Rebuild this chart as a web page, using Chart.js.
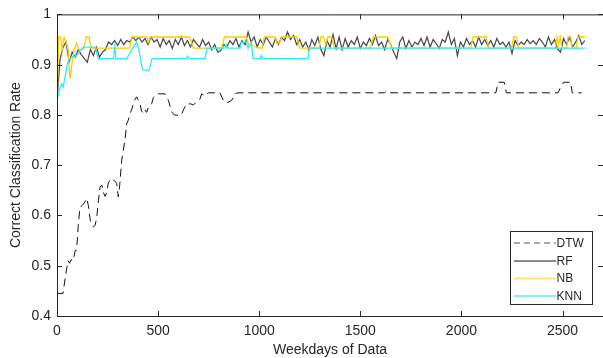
<!DOCTYPE html>
<html>
<head>
<meta charset="utf-8">
<script src="https://cdn.jsdelivr.net/npm/chart.js@4.4.1/dist/chart.umd.min.js"></script>
<style>
  html, body { margin: 0; padding: 0; background: #fff; }
  canvas { display: block; }
</style>
</head>
<body>
<canvas id="myChart" width="603" height="358"></canvas>
<script>
// x axis: weekdays of data, y axis: correct classification rate
const xTicks = [0, 500, 1000, 1500, 2000, 2500];
const yTicks = [0.4, 0.5, 0.6, 0.7, 0.8, 0.9, 1];
const seriesNames = ['DTW', 'RF', 'NB', 'KNN'];

// DTW (dashed black)
const dtwDays = [0, 30, 35, 48, 55, 62, 70, 80, 90, 97, 105, 114, 125, 135, 147, 155, 165, 180, 188, 196,
  205, 213, 222, 230, 238, 245, 254, 262, 270, 280, 288, 295, 303, 310, 320, 328, 336, 345, 353, 361,
  369, 377, 385, 394, 402, 410, 418, 427, 435, 443, 452, 460, 468, 477, 485, 500, 534, 551, 567, 580,
  600, 615, 625, 641, 660, 675, 691, 705, 716, 730, 748, 806, 815, 823, 839, 850, 864, 872, 880, 895,
  1620, 1627, 1634, 2170, 2182, 2212, 2222, 2478, 2490, 2505, 2540, 2548, 2595];
const dtwRate = [0.445, 0.445, 0.46, 0.495, 0.51, 0.505, 0.512, 0.51, 0.53, 0.531, 0.58, 0.617, 0.62, 0.625, 0.634, 0.62, 0.59, 0.577, 0.58, 0.594,
  0.63, 0.657, 0.66, 0.645, 0.638, 0.645, 0.665, 0.67, 0.674, 0.67, 0.668, 0.664, 0.637, 0.66, 0.71, 0.73, 0.75, 0.783, 0.79, 0.803,
  0.81, 0.822, 0.83, 0.836, 0.83, 0.823, 0.808, 0.803, 0.81, 0.805, 0.815, 0.82, 0.822, 0.835, 0.839, 0.842, 0.842, 0.829, 0.806, 0.8,
  0.799, 0.8, 0.81, 0.822, 0.822, 0.82, 0.826, 0.83, 0.842, 0.838, 0.844, 0.844, 0.835, 0.829, 0.824, 0.826, 0.829, 0.835, 0.842, 0.844,
  0.844, 0.847, 0.844, 0.844, 0.865, 0.865, 0.844, 0.844, 0.855, 0.865, 0.865, 0.844, 0.844];

// RF (dark grey, noisy), one reading every 15 days
const rfStep = 15;
const rfRate = [
  0.83, 0.91, 0.935, 0.945, 0.905, 0.925, 0.915, 0.93, 0.92, 0.912, 0.905, 0.93, 0.918, 0.935, 0.915, 0.925, 0.93, 0.945, 0.94, 0.948,
  0.938, 0.95, 0.94, 0.948, 0.945, 0.955, 0.948, 0.955, 0.945, 0.952, 0.94, 0.955, 0.945, 0.95, 0.935, 0.952, 0.94, 0.948, 0.932, 0.95,
  0.94, 0.955, 0.938, 0.948, 0.935, 0.95, 0.942, 0.935, 0.95, 0.938, 0.945, 0.93, 0.94, 0.925, 0.928, 0.94, 0.935, 0.948, 0.94, 0.952,
  0.935, 0.948, 0.94, 0.965, 0.945, 0.955, 0.935, 0.95, 0.94, 0.955, 0.945, 0.935, 0.952, 0.94, 0.955, 0.948, 0.965, 0.95, 0.958, 0.94,
  0.95, 0.935, 0.945, 0.93, 0.95, 0.938, 0.955, 0.93, 0.918, 0.948, 0.935, 0.96, 0.932, 0.955, 0.93, 0.952, 0.935, 0.948, 0.94, 0.955,
  0.932, 0.945, 0.938, 0.952, 0.94, 0.958, 0.938, 0.945, 0.93, 0.95, 0.94, 0.925, 0.912, 0.945, 0.955, 0.932, 0.948, 0.935, 0.945, 0.94,
  0.952, 0.938, 0.955, 0.935, 0.95, 0.942, 0.932, 0.95, 0.945, 0.965, 0.94, 0.952, 0.918, 0.945, 0.935, 0.952, 0.94, 0.948, 0.935, 0.955,
  0.94, 0.95, 0.938, 0.948, 0.935, 0.952, 0.94, 0.945, 0.935, 0.945, 0.922, 0.948, 0.938, 0.945, 0.94, 0.95, 0.942, 0.948, 0.94, 0.952,
  0.945, 0.935, 0.955, 0.94, 0.95, 0.932, 0.925, 0.952, 0.94, 0.955, 0.935, 0.945, 0.958, 0.94, 0.948];
const rfDays = rfRate.map((_, i) => i * rfStep);

// NB (gold, step-like)
const nbDays = [0, 8, 18, 25, 35, 45, 55, 64, 75, 85, 97, 108, 130, 145, 158, 170, 360, 370, 445, 452,
  462, 655, 675, 815, 828, 935, 948, 1005, 1015, 1025, 1078, 1088, 1100, 1111, 1185, 1200, 1295, 1305, 1318, 1328,
  1340, 1358, 1372, 1550, 1565, 1635, 1655, 2045, 2058, 2122, 2135, 2248, 2258, 2272, 2284, 2465, 2472, 2480, 2488, 2496,
  2520, 2527, 2540, 2548, 2568, 2576, 2611];
const nbRate = [0.81, 0.955, 0.955, 0.928, 0.955, 0.945, 0.93, 0.872, 0.905, 0.93, 0.942, 0.93, 0.93, 0.955, 0.955, 0.933, 0.933, 0.955, 0.955, 0.945,
  0.955, 0.955, 0.933, 0.933, 0.955, 0.955, 0.94, 0.933, 0.933, 0.955, 0.955, 0.942, 0.942, 0.955, 0.955, 0.933, 0.933, 0.955, 0.955, 0.94,
  0.955, 0.955, 0.933, 0.933, 0.955, 0.955, 0.933, 0.933, 0.955, 0.955, 0.933, 0.933, 0.955, 0.955, 0.933, 0.933, 0.955, 0.94, 0.955, 0.933,
  0.933, 0.955, 0.955, 0.933, 0.933, 0.955, 0.955];

// KNN (cyan)
const knnDays = [0, 12, 23, 30, 40, 50, 56, 73, 97, 114, 130, 188, 205, 279, 285, 292, 345, 370, 394, 405,
  420, 427, 455, 470, 638, 645, 655, 732, 742, 830, 836, 842, 905, 912, 935, 945, 960, 970, 1005, 1010,
  1018, 1240, 1250, 2611];
const knnRate = [0.828, 0.85, 0.862, 0.855, 0.875, 0.9, 0.908, 0.915, 0.918, 0.928, 0.935, 0.935, 0.912, 0.912, 0.935, 0.912, 0.912, 0.93, 0.945, 0.93,
  0.895, 0.889, 0.889, 0.912, 0.912, 0.917, 0.912, 0.912, 0.933, 0.933, 0.94, 0.933, 0.933, 0.945, 0.945, 0.933, 0.945, 0.912, 0.912, 0.918,
  0.912, 0.912, 0.933, 0.933];

const toPoints = (xs, ys) => xs.map((d, i) => ({ x: d, y: ys[i] }));

const textColor = '#262626';
const fontFamily = '"Liberation Sans", Arial, Helvetica, sans-serif';

// MATLAB-style box, inward ticks and legend
const matlabFrame = {
    id: 'matlabFrame',
    afterDatasetsDraw(chart) {
        const { ctx, chartArea: a, scales: { x, y } } = chart;
        ctx.save();
        ctx.strokeStyle = textColor;
        ctx.lineWidth = 1;
        ctx.setLineDash([]);
        ctx.beginPath();
        ctx.rect(a.left + 0.5, a.top + 0.5, a.right - a.left, a.bottom - a.top);
        x.ticks.forEach(t => {
            const px = Math.round(x.getPixelForValue(t.value)) + 0.5;
            ctx.moveTo(px, a.bottom); ctx.lineTo(px, a.bottom - 5);
            ctx.moveTo(px, a.top); ctx.lineTo(px, a.top + 5);
        });
        y.ticks.forEach(t => {
            const py = Math.round(y.getPixelForValue(t.value)) + 0.5;
            ctx.moveTo(a.left, py); ctx.lineTo(a.left + 5, py);
            ctx.moveTo(a.right, py); ctx.lineTo(a.right - 5, py);
        });
        ctx.stroke();

        // legend box
        const lx = 510.5, ly = 231.5, lw = 82, lh = 73;
        ctx.fillStyle = '#fff';
        ctx.fillRect(lx, ly, lw, lh);
        ctx.strokeRect(lx, ly, lw, lh);
        const sample = ['#555555', '#8c8c8c', '#ffe27a', '#7ef3ff'];
        const rows = [243, 261, 278.5, 296];
        ctx.font = '12px ' + fontFamily;
        ctx.textBaseline = 'middle';
        ctx.textAlign = 'left';
        seriesNames.forEach((name, i) => {
            ctx.beginPath();
            ctx.strokeStyle = sample[i];
            ctx.lineWidth = i === 0 ? 1 : 2;
            ctx.setLineDash(i === 0 ? [6, 4] : []);
            ctx.moveTo(514, rows[i]);
            ctx.lineTo(556, rows[i]);
            ctx.stroke();
            ctx.setLineDash([]);
            ctx.fillStyle = textColor;
            ctx.fillText(name, 556.5, rows[i] + 0.5);
        });
        ctx.restore();
    }
};

const ctx = document.getElementById('myChart').getContext('2d');
const myChart = new Chart(ctx, {
    type: 'line',
    data: {
        datasets: [
            {
                label: seriesNames[0],
                data: toPoints(dtwDays, dtwRate),
                borderColor: '#111111',
                borderWidth: 1,
                borderDash: [8, 5],
                order: 3
            },
            {
                label: seriesNames[1],
                data: toPoints(rfDays, rfRate),
                borderColor: '#464646',
                borderWidth: 1.2,
                order: 2
            },
            {
                label: seriesNames[2],
                data: toPoints(nbDays, nbRate),
                borderColor: '#ffcc00',
                borderWidth: 1.3,
                order: 1
            },
            {
                label: seriesNames[3],
                data: toPoints(knnDays, knnRate),
                borderColor: '#22f0ff',
                borderWidth: 1.3,
                order: 0
            }
        ]
    },
    options: {
        responsive: false,
        animation: false,
        devicePixelRatio: 1,
        layout: { padding: { top: 14, right: 0, left: 0, bottom: 0 } },
        elements: {
            point: { radius: 0 },
            line: { tension: 0, fill: false }
        },
        plugins: {
            legend: { display: false },
            tooltip: { enabled: false }
        },
        scales: {
            x: {
                type: 'linear',
                min: 0,
                max: 2700,
                afterFit: s => { s.height = 42; },
                afterBuildTicks: s => { s.ticks = xTicks.map(v => ({ value: v })); },
                grid: { display: false, drawTicks: false },
                border: { display: false },
                ticks: {
                    padding: 7, color: textColor, maxRotation: 0,
                    font: { family: fontFamily, size: 14 },
                    callback: v => String(v)
                },
                title: {
                    display: true,
                    text: 'Weekdays of Data',
                    color: textColor,
                    font: { family: fontFamily, size: 14, lineHeight: 1 },
                    padding: { top: 0, bottom: 1 }
                }
            },
            y: {
                min: 0.4,
                max: 1,
                afterFit: s => { s.width = 57; },
                afterBuildTicks: s => { s.ticks = yTicks.map(v => ({ value: v })); },
                grid: { display: false, drawTicks: false },
                border: { display: false },
                ticks: {
                    padding: 6, color: textColor,
                    font: { family: fontFamily, size: 14 },
                    callback: v => String(Number(v.toFixed(1)))
                },
                title: {
                    display: true,
                    text: 'Correct Classification Rate',
                    color: textColor,
                    font: { family: fontFamily, size: 14, lineHeight: 1 },
                    padding: { top: 9.5, bottom: 0 }
                }
            }
        }
    },
    plugins: [matlabFrame]
});
</script>
</body>
</html>
